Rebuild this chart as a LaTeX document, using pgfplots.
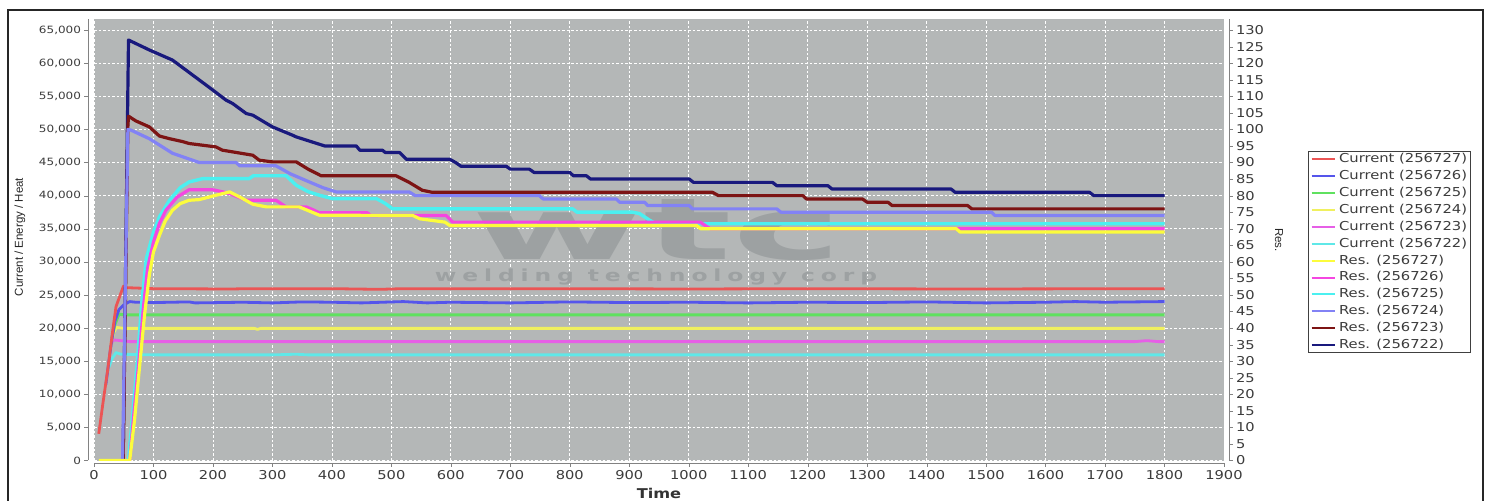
\documentclass[border=0pt]{standalone}
\usepackage{graphicx}
\usepackage{pgfplots}
\pgfplotsset{compat=1.18}
\usepackage{fontspec}
\setmainfont{DejaVu Sans}[FakeStretch=1.2]
\newfontfamily\labelfont{Liberation Sans}
\newfontfamily\wmfont{DejaVu Sans}[LetterSpace=25]
\definecolor{plotbg}{RGB}{180,183,183}
\definecolor{wm}{RGB}{157,161,162}
\definecolor{axgray}{RGB}{130,130,130}
\definecolor{tkgray}{RGB}{60,60,60}
\definecolor{cRed}{RGB}{235,85,85}
\definecolor{cBlue}{RGB}{85,85,235}
\definecolor{cGreen}{RGB}{95,225,95}
\definecolor{cYellow}{RGB}{240,240,95}
\definecolor{cMag}{RGB}{230,95,230}
\definecolor{cCyan}{RGB}{95,232,232}
\definecolor{rYellow}{RGB}{252,252,60}
\definecolor{rMag}{RGB}{245,70,225}
\definecolor{rCyan}{RGB}{75,240,240}
\definecolor{rLav}{RGB}{130,130,245}
\definecolor{rBrown}{RGB}{125,20,20}
\definecolor{rNavy}{RGB}{25,25,125}
\begin{document}
\begin{tikzpicture}
\path[use as bounding box, fill=white] (0,0) rectangle (1491bp,501bp);
\begin{axis}[name=main, at={(94bp,40.5bp)}, anchor=south west,
  scale only axis, width=1130bp, height=441bp,
  xmin=0, xmax=1900, ymin=0, ymax=66600,
  xtick={0,100,...,1900}, ytick={0,5000,...,65000},
  scaled y ticks=false, scaled x ticks=false,
  /pgf/number format/assume math mode=true,
  tick pos=left, tick align=outside, major tick length=3.5bp,
  xtick style={draw=axgray, yshift=-2.7bp},
  ytick style={draw=axgray, xshift=-6bp},
  xticklabel style={font=\fontsize{12.2bp}{14bp}\selectfont, text=tkgray, yshift=-2.7bp, /pgf/number format/1000 sep={}},
  yticklabel style={font=\fontsize{10bp}{12bp}\selectfont, text=tkgray, xshift=-6bp, /pgf/number format/1000 sep={,}},
  axis line style={draw=none},
  axis background/.style={fill=plotbg},
  grid=major,
  major grid style={draw=white, dash pattern=on 2.5bp off 2bp, line width=0.7bp},
  xlabel={Time},
  xlabel style={font=\bfseries\fontsize{13.5bp}{15bp}\selectfont, text=black!80, at={(axis description cs:0.5,-0.0737)}, anchor=center},
  ylabel={Current / Energy / Heat},
  ylabel style={font=\labelfont\fontsize{11.5bp}{13bp}\selectfont, text=black!85, at={(axis description cs:-0.0655,0.5068)}, anchor=center},
  legend image code/.code={\draw[#1] (0bp,0bp) -- (23bp,0bp);},
  legend cell align=left,
  legend style={at={(axis description cs:1.0743,0.7018)}, anchor=north west,
    draw=black!75, line width=1.3bp, fill=white,
    font=\fontsize{12.3bp}{14bp}\selectfont, text=tkgray,
    inner xsep=2bp, inner ysep=1.5bp, row sep=4.8bp, column sep=2bp,
    nodes={inner xsep=1.5bp, inner ysep=0bp, text height=9.5bp, text depth=2.6bp}},
  every axis plot/.append style={line join=round},
]
% watermark
\node[anchor=base, inner sep=0pt, text=wm] at (axis cs:947,30430) {\resizebox{370bp}{60bp}{\bfseries wtc}};
\node[anchor=base, inner sep=0pt, text=wm] at (axis cs:945,27000) {\resizebox{442bp}{12.6bp}{\wmfont\bfseries welding technology corp}};

% Current series
\addplot[cCyan, line width=2.8bp, forget plot] coordinates {(25,14100) (30,15300) (37,16300) (45,16050) (100,15950) (300,15950) (340,16050) (360,15950) (800,15950) (1100,15950) (1500,15950) (1800,15950)};
\addplot[cMag, line width=2.8bp, forget plot] coordinates {(28,17600) (33,18200) (40,18150) (60,17950) (400,17950) (1000,17950) (1750,17950) (1770,18100) (1790,17950) (1800,17950)};
\addplot[cYellow, line width=2.8bp, forget plot] coordinates {(28,17400) (33,19300) (38,20100) (50,19950) (270,19950) (275,19800) (280,19950) (1800,19950)};
\addplot[cGreen, line width=3bp, forget plot] coordinates {(30,18500) (35,20500) (42,22100) (50,22000) (1800,22000)};
\addplot[cBlue, line width=2.8bp, forget plot] coordinates {(20,11500) (28,17000) (35,21000) (42,22800) (50,23500) (60,24000) (70,23900) (100,23850) (160,23950) (170,23800) (250,23900) (300,23800) (350,23950) (400,23900) (450,23800) (520,24000) (560,23800) (600,23900) (700,23800) (800,23950) (900,23850) (1000,23900) (1100,23800) (1200,23900) (1300,23850) (1400,23950) (1500,23800) (1600,23900) (1650,24000) (1700,23900) (1800,24000)};
\addplot[cRed, line width=2.8bp, forget plot] coordinates {(8,4030) (15,8640) (23,13650) (31.6,19700) (37,23220) (43,24730) (49.6,26340) (55,26100) (100,25950) (230,25900) (260,25950) (400,25950) (480,25850) (520,25950) (800,25950) (1000,25900) (1200,25950) (1460,25900) (1800,25950)};

% Res series
\addplot[rNavy, line width=3.2bp, forget plot] coordinates {(49,0) (58,63500) (93,62000) (132,60470) (166,58200) (200,55930) (222,54420) (233,53920) (256,52400) (267,52150) (300,50380) (334,49120) (340,48870) (388,47500) (441,47500) (447,46860) (485,46860) (490,46500) (514,46500) (525,45500) (598,45500) (608,45000) (617,44440) (693,44440) (700,44000) (732,44000) (740,43500) (800,43500) (806,43000) (828,43000) (835,42500) (1001,42500) (1008,42000) (1141,42000) (1148,41500) (1234,41500) (1241,41000) (1441,41000) (1448,40500) (1674,40500) (1681,40000) (1800,40000)};
\addplot[rBrown, line width=3.2bp, forget plot] coordinates {(49,0) (57,50500) (58,52000) (70,51300) (93,50380) (110,49000) (127,48600) (149,48160) (160,47870) (205,47360) (216,46860) (233,46610) (267,46100) (278,45350) (300,45100) (340,45100) (360,44000) (382,43000) (508,43000) (530,42000) (552,40810) (569,40500) (1040,40500) (1050,40000) (1192,40000) (1198,39500) (1292,39500) (1300,39000) (1335,39000) (1342,38500) (1469,38500) (1476,38000) (1800,38000)};
\addplot[rLav, line width=3.2bp, forget plot] coordinates {(48,0) (57,50000) (62,49900) (93,48600) (132,46400) (177,45000) (239,45000) (245,44500) (306,44500) (330,43300) (362,42070) (385,41200) (407,40560) (530,40560) (540,40000) (749,40000) (755,39500) (878,39500) (884,39000) (926,39000) (931,38500) (1001,38500) (1006,38000) (1148,38000) (1155,37500) (1509,37500) (1515,37000) (1800,37000)};
\addplot[rCyan, line width=3.4bp, forget plot] coordinates {(58,0) (65,7000) (73,15000) (80,23500) (88,30500) (100,34500) (110,36800) (127,39300) (145,41200) (160,42070) (183,42570) (261,42570) (268,43000) (323,43000) (340,41570) (360,40600) (379,40060) (401,39550) (475,39550) (490,38800) (502,38000) (805,38000) (812,37500) (905,37500) (917,37300) (934,36300) (945,35750) (1800,35750)};
\addplot[rMag, line width=3.2bp, forget plot] coordinates {(60,0) (67,7000) (75,14500) (83,23000) (90,29000) (100,33000) (110,35800) (121,37800) (140,39800) (160,40900) (199,40900) (215,40600) (228,40300) (256,39300) (306,39300) (323,38300) (357,38300) (370,37800) (379,37400) (460,37400) (465,37000) (592,37000) (603,36000) (1019,36000) (1036,35000) (1800,35000)};
\addplot[rYellow, line width=3.2bp, forget plot] coordinates {(8,0) (60,0) (68,6000) (76,13600) (85,22000) (93,28000) (100,31500) (110,34000) (120,36200) (132,37800) (145,38800) (160,39300) (177,39400) (205,40060) (228,40560) (245,39800) (267,38700) (290,38300) (345,38300) (379,37040) (536,37000) (548,36500) (590,36000) (598,35500) (1013,35500) (1020,35000) (1450,35000) (1456,34500) (1800,34500)};

% legend
\addlegendimage{cRed, line width=2bp}\addlegendentry{Current (256727)}
\addlegendimage{cBlue, line width=2bp}\addlegendentry{Current (256726)}
\addlegendimage{cGreen, line width=2bp}\addlegendentry{Current (256725)}
\addlegendimage{cYellow, line width=2bp}\addlegendentry{Current (256724)}
\addlegendimage{cMag, line width=2bp}\addlegendentry{Current (256723)}
\addlegendimage{cCyan, line width=2bp}\addlegendentry{Current (256722)}
\addlegendimage{rYellow, line width=2bp}\addlegendentry{Res. (256727)}
\addlegendimage{rMag, line width=2bp}\addlegendentry{Res. (256726)}
\addlegendimage{rCyan, line width=2bp}\addlegendentry{Res. (256725)}
\addlegendimage{rLav, line width=2bp}\addlegendentry{Res. (256724)}
\addlegendimage{rBrown, line width=2bp}\addlegendentry{Res. (256723)}
\addlegendimage{rNavy, line width=2bp}\addlegendentry{Res. (256722)}
\end{axis}
\begin{axis}[at={(94bp,40.5bp)}, anchor=south west,
  scale only axis, width=1130bp, height=441bp,
  xmin=0, xmax=1900, ymin=0, ymax=133.2,
  hide x axis, axis y line*=right, axis line style={draw=none},
  ytick={0,5,...,130},
  /pgf/number format/assume math mode=true,
  tick align=outside, major tick length=3.5bp,
  ytick style={draw=axgray, xshift=5bp},
  yticklabel style={font=\fontsize{12.2bp}{14bp}\selectfont, text=tkgray, xshift=5bp},
  ylabel={Res.},
  ylabel style={font=\labelfont\fontsize{11.5bp}{13bp}\selectfont, text=black!85, at={(axis description cs:1.0487,0.5)}, anchor=center, rotate=180},
]
\end{axis}
% offset axis lines
\draw[axgray, line width=0.9bp] (88bp,40.5bp) -- (88bp,481.5bp);
\draw[axgray, line width=0.9bp] (94bp,37.8bp) -- (1224bp,37.8bp);
\draw[axgray, line width=0.9bp] (1229bp,40.5bp) -- (1229bp,481.5bp);
% outer frame
\draw[line width=1.5bp, black!85] (8bp,-2bp) -- (8bp,491bp) -- (1483bp,491bp) -- (1483bp,-2bp);
\end{tikzpicture}
\end{document}
